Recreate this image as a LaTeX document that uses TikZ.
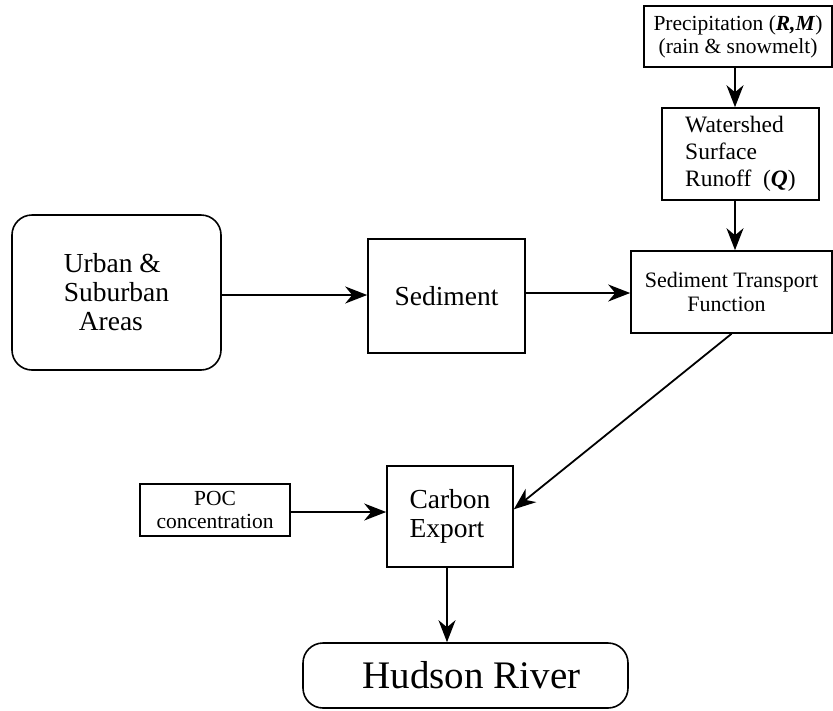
\documentclass[tikz,border=0pt]{standalone}
\usepackage{fontspec}
\setmainfont{Liberation Serif}
\usetikzlibrary{arrows.meta,calc}
\begin{document}
\begin{tikzpicture}[x=1pt,y=-1pt,
  box/.style={draw, line width=1.6pt, inner sep=0pt, rectangle},
  rbox/.style={box, rounded corners=20pt},
  arr/.style={line width=1.8pt, -{Stealth[length=22pt,width=17pt,inset=7pt]}},
  big/.style={font=\fontsize{27.5}{29}\selectfont},
  mid/.style={font=\fontsize{22}{24}\selectfont},
  sml/.style={font=\fontsize{21.5}{23}\selectfont}]
\useasboundingbox (0,0) rectangle (833,710);
\node[box, sml, align=center, minimum width=188, minimum height=61] (prec) at (738,36.5)
  {Precipitation (\textbf{\textit{R,M}})\\(rain \& snowmelt)};
\node[box, font=\fontsize{23.5}{27}\selectfont, align=left, minimum width=157, minimum height=92] (ws) at (740.5,154)
  {Watershed\\Surface\\Runoff\ \ (\textbf{\textit{Q}})};
\node[box, mid, align=center, minimum width=201, minimum height=82] (stf) at (731.5,292)
  {Sediment Transport\\Function\hspace*{10pt}};
\node[box, big, minimum width=157, minimum height=114] (sed) at (446.5,296) {Sediment};
\node[rbox, big, align=left, minimum width=209, minimum height=155] (urb) at (116.5,292.5)
  {Urban \&\\Suburban\\\hspace*{15pt}Areas};
\node[box, big, align=left, minimum width=126, minimum height=101] (ce) at (450,516.5)
  {Carbon\\Export};
\node[box, sml, align=center, minimum width=150, minimum height=52] (poc) at (215,510)
  {POC\\concentration};
\node[rbox, font=\fontsize{39}{41}\selectfont, minimum width=325, minimum height=65] (hud) at (465.5,675.5)
  {\hspace*{12pt}Hudson River};
\coordinate (xa) at (735,0);
\coordinate (ya) at (0,295);
\coordinate (yb) at (0,293);
\coordinate (yc) at (0,512);
\coordinate (xd) at (447,0);
\draw[arr] (xa |- prec.south) -- (xa |- ws.north);
\draw[arr] (xa |- ws.south) -- (xa |- stf.north);
\draw[arr] (urb.east |- ya) -- (sed.west |- ya);
\draw[arr] (sed.east |- yb) -- (stf.west |- yb);
\draw[arr] (stf.south) -- ($(ce.north east)!0.43!(ce.south east)$);
\draw[arr] (poc.east |- yc) -- (ce.west |- yc);
\draw[arr] (xd |- ce.south) -- (xd |- hud.north);
\end{tikzpicture}
\end{document}
